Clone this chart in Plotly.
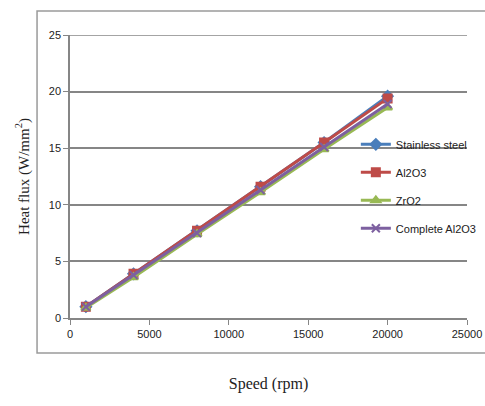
import plotly.graph_objects as go

speed = [1000, 4000, 8000, 12000, 16000, 20000]
stainless = [1.0, 3.9, 7.7, 11.6, 15.5, 19.6]
al2o3 = [1.0, 3.9, 7.7, 11.6, 15.5, 19.4]
zro2 = [0.9, 3.6, 7.4, 11.1, 14.9, 18.6]
complete = [1.0, 3.8, 7.5, 11.3, 15.1, 18.9]
x_ticks = [0, 5000, 10000, 15000, 20000, 25000]
y_ticks = [0, 5, 10, 15, 20, 25]

series = [
    ("Stainless steel", stainless, "#4a7ebb", "diamond"),
    ("Al2O3", al2o3, "#be4b48", "square"),
    ("ZrO2", zro2, "#98b954", "triangle-up"),
    ("Complete Al2O3", complete, "#7d60a0", "x-thin-open"),
]

fig = go.Figure()
for i, (name, ys, col, sym) in enumerate(series):
    fig.add_trace(go.Scatter(
        x=speed, y=ys, name=name, mode="lines+markers",
        legendgroup=f"g{i}",
        line=dict(color=col, width=3),
        marker=dict(symbol=sym, size=8,
                    color=col, line=dict(color=col, width=2)),
    ))

fig.update_layout(
    width=485, height=406,
    margin=dict(l=70, r=18, t=35, b=88, autoexpand=False),
    paper_bgcolor="white", plot_bgcolor="white",
    font=dict(family="Liberation Sans, sans-serif", size=11, color="#222"),
    showlegend=True,
    legend=dict(x=0.72, y=0.665, xanchor="left", yanchor="top",
                bgcolor="rgba(0,0,0,0)", tracegroupgap=9,
                font=dict(size=11, family="Liberation Sans, sans-serif", color="#222"),
                itemwidth=30),
    xaxis=dict(range=[0, 25000], tickvals=x_ticks, ticktext=[str(v) for v in x_ticks],
               showgrid=False, showline=True, linecolor="#868686", linewidth=1.5,
               ticks="outside", ticklen=5, tickcolor="#868686", tickfont=dict(size=11),
               zeroline=False,
               title=dict(text="Speed (rpm)", standoff=39,
                          font=dict(family="Liberation Serif, serif", size=16, color="#222"))),
    yaxis=dict(range=[0, 25], tickvals=y_ticks, ticktext=[str(v) for v in y_ticks],
               showgrid=True, gridcolor="#868686", gridwidth=1.5,
               showline=True, linecolor="#868686", linewidth=1.5,
               ticks="outside", ticklen=5, tickcolor="#868686", tickfont=dict(size=11),
               zeroline=False,
               title=dict(text="Heat flux (W/mm<sup>2</sup>)", standoff=16,
                          font=dict(family="Liberation Serif, serif", size=15, color="#222"))),
)

fig.add_hline(y=y_ticks[-1], line=dict(color="#868686", width=1.5), layer="below")

fig.add_shape(type="rect", xref="paper", yref="paper",
              x0=-0.083, x1=1.08, y0=-0.124, y1=1.085,
              line=dict(color="#9a9a9a", width=1.5), layer="below")

fig.write_html("out.html")
